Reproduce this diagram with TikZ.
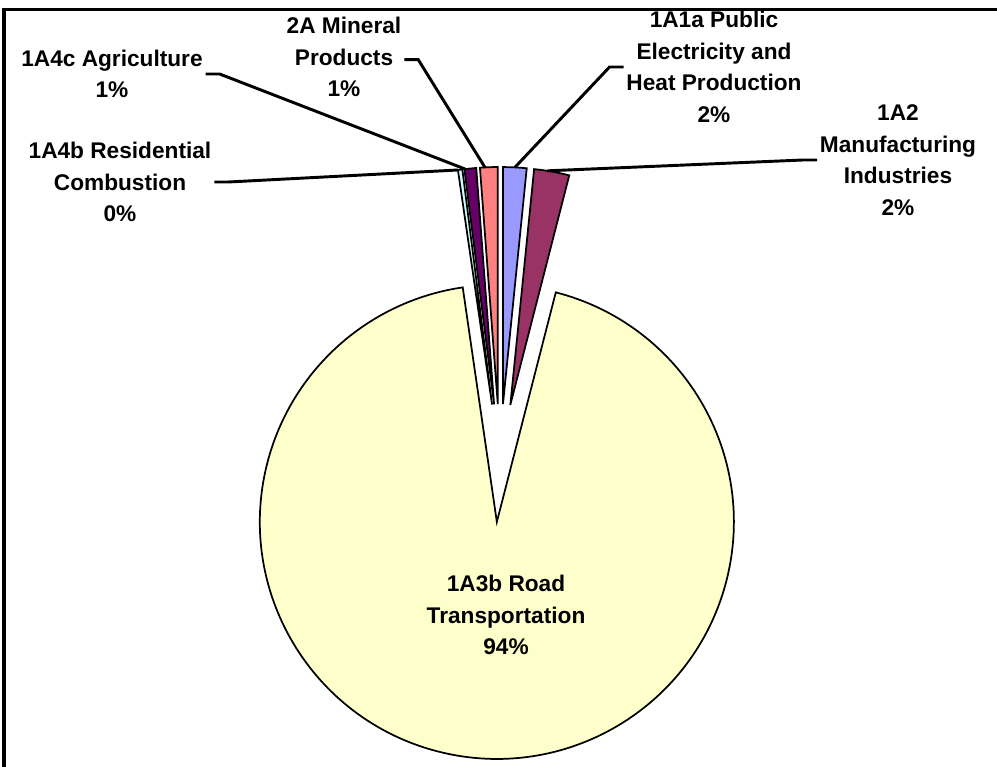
\documentclass[tikz,border=0pt]{standalone}
\usepackage{fontspec}
\setmainfont{Liberation Sans}
\definecolor{cA}{HTML}{9999FF}
\definecolor{cB}{HTML}{993366}
\definecolor{cC}{HTML}{FFFFCC}
\definecolor{cD}{HTML}{CCFFFF}
\definecolor{cE}{HTML}{660066}
\definecolor{cF}{HTML}{FF8080}
\begin{document}
\begin{tikzpicture}[x=0.75pt,y=-0.75pt,
  lbl/.style={font=\fontsize{17}{23.6}\selectfont\bfseries, align=center, inner sep=2pt},
  slice/.style={draw=black, line width=1.3pt, line join=miter},
  leader/.style={draw=black, line width=2.2pt},
  frame/.style={draw=black, line width=2.4pt}]
\useasboundingbox (0,0) rectangle (997,767);
\clip (0,0) rectangle (997,767);
\draw[frame] (4,800) -- (4,9.5) -- (1020,9.5);
\begin{scope}[shift={(500,463)}, yscale=-1]
  \def\R{237}
  \def\d{59}
  % 1A3b road
  \draw[slice, fill=cC] (-93.06:\d) -- ++(75.6:\R) arc[start angle=75.6, end angle=-261.72, radius=\R] -- cycle;
  % 1A1a
  \draw[slice, fill=cA] (87.12:\d) -- ++(84.24:\R) arc[start angle=84.24, end angle=90, radius=\R] -- cycle;
  % 1A2
  \draw[slice, fill=cB] (79.92:\d) -- ++(75.6:\R) arc[start angle=75.6, end angle=84.24, radius=\R] -- cycle;
  % 2A
  \draw[slice, fill=cF] (92.16:\d) -- ++(90:\R) arc[start angle=90, end angle=94.32, radius=\R] -- cycle;
  % 1A4c
  \draw[slice, fill=cE] (95.76:\d) -- ++(94.32:\R) arc[start angle=94.32, end angle=97.2, radius=\R] -- cycle;
  % 1A4b
  \draw[slice, fill=cD] (97.74:\d) -- ++(97.2:\R) arc[start angle=97.2, end angle=98.28, radius=\R] -- cycle;
  % leader ends
  \path (87.12:\d) ++(87.12:\R) coordinate (e1A1a);
  \path (79.92:\d) ++(81:\R) coordinate (e1A2);
  \path (92.16:\d) ++(93.1:\R) coordinate (e2A);
  \path (95.76:\d) ++(97.0:\R) coordinate (e1A4c);
  \path (97.74:\d) ++(98.2:\R) coordinate (e1A4b);
\end{scope}
\node[lbl] (l1A4c) at (112,74) {1A4c Agriculture\\1\%};
\node[lbl] (l1A4b) at (120,182) {1A4b Residential\\Combustion\\0\%};
\node[lbl] (l2A) at (344,57) {2A Mineral\\Products\\1\%};
\node[lbl] (l1A1a) at (714,67) {1A1a Public\\Electricity and\\Heat Production\\2\%};
\node[lbl] (l1A2) at (898,160) {1A2\\Manufacturing\\Industries\\2\%};
\node[lbl] (l1A3b) at (506,615) {1A3b Road\\Transportation\\94\%};
\draw[leader] (l1A4c.east) -- ++(14,0) -- (e1A4c);
\draw[leader] (l1A4b.east) -- ++(14,0) -- (e1A4b);
\draw[leader] ([yshift=-2pt]l2A.east) -- ++(14,0) -- (e2A);
\draw[leader] (l1A1a.west) -- ++(-14,0) -- (e1A1a);
\draw[leader] (l1A2.west) -- ++(-14,0) -- (e1A2);
\end{tikzpicture}
\end{document}
